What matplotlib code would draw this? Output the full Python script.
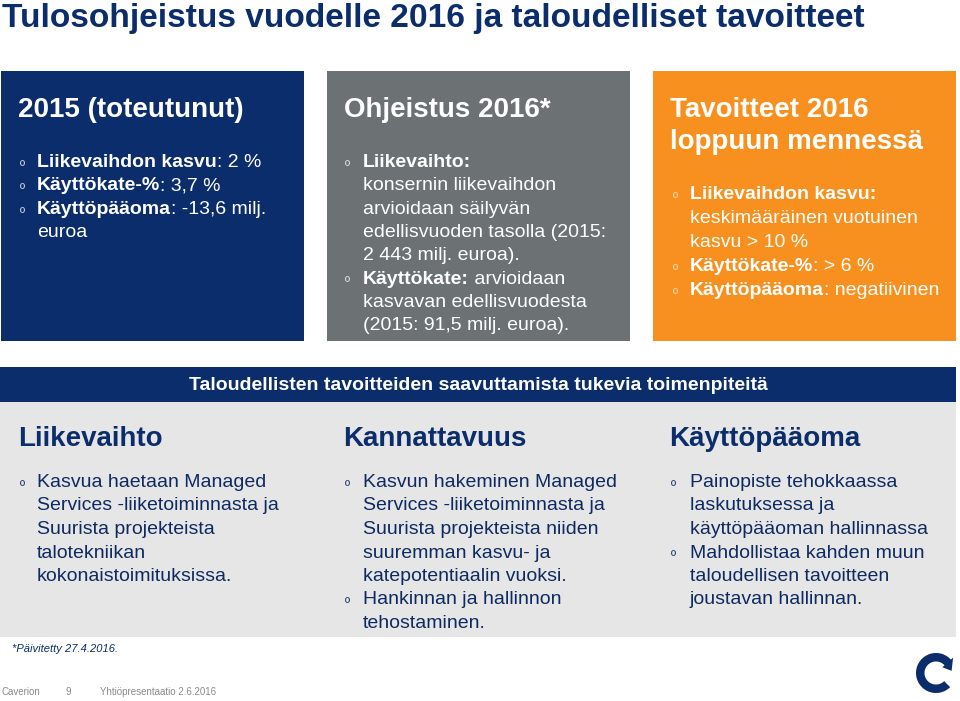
import matplotlib
matplotlib.use("Agg")
import matplotlib.pyplot as plt
from matplotlib.patches import Rectangle, Wedge, Polygon
import numpy as np

plt.rcParams['font.family'] = ['Liberation Sans', 'DejaVu Sans']

NAVY = '#0b2d6b'
TEXTNAVY = '#0e2a60'
GRAYBOX = '#6c7174'
ORANGE = '#f7901e'
LIGHT = '#e6e6e6'

# ---------------- content ----------------
slide_title = "Tulosohjeistus vuodelle 2016 ja taloudelliset tavoitteet"

top_titles = [["2015 (toteutunut)"],
              ["Ohjeistus 2016*"],
              ["Tavoitteet 2016", "loppuun mennessä"]]

box1_bullets = [
    [[("Liikevaihdon kasvu", True), (": 2 %", False)]],
    [[("Käyttökate-%", True), (": 3,7 %", False)]],
    [[("Käyttöpääoma", True), (": -13,6 milj.", False)], [("euroa", False)]],
]
box2_bullets = [
    [[("Liikevaihto:", True)],
     [("konsernin liikevaihdon", False)],
     [("arvioidaan säilyvän", False)],
     [("edellisvuoden tasolla (2015:", False)],
     [("2 443 milj. euroa).", False)]],
    [[("Käyttökate:", True), (" arvioidaan", False)],
     [("kasvavan edellisvuodesta", False)],
     [("(2015: 91,5 milj. euroa).", False)]],
]
box3_bullets = [
    [[("Liikevaihdon kasvu:", True)],
     [("keskimääräinen vuotuinen", False)],
     [("kasvu > 10 %", False)]],
    [[("Käyttökate-%", True), (": > 6 %", False)]],
    [[("Käyttöpääoma", True), (": negatiivinen", False)]],
]

banner_text = "Taloudellisten tavoitteiden saavuttamista tukevia toimenpiteitä"
column_headers = ["Liikevaihto", "Kannattavuus", "Käyttöpääoma"]
column_bullets = [
    [["Kasvua haetaan Managed", "Services -liiketoiminnasta ja",
      "Suurista projekteista", "talotekniikan", "kokonaistoimituksissa."]],
    [["Kasvun hakeminen Managed", "Services -liiketoiminnasta ja",
      "Suurista projekteista niiden", "suuremman kasvu- ja",
      "katepotentiaalin vuoksi."],
     ["Hankinnan ja hallinnon", "tehostaminen."]],
    [["Painopiste tehokkaassa", "laskutuksessa ja", "käyttöpääoman hallinnassa"],
     ["Mahdollistaa kahden muun", "taloudellisen tavoitteen", "joustavan hallinnan."]],
]
footnote = "*Päivitetty 27.4.2016."
footer_items = ["Caverion", "9", "Yhtiöpresentaatio 2.6.2016"]

# ---------------- drawing ----------------
fig = plt.figure(figsize=(9.6, 7.01), dpi=100)
ax = fig.add_axes([0, 0, 1, 1])
ax.set_xlim(0, 960)
ax.set_ylim(701, 0)
ax.axis('off')


def rich(x, y, segs, size, color):
    prev = None
    for txt, bold in segs:
        w = 'bold' if bold else 'normal'
        if prev is None:
            prev = ax.text(x, y, txt, fontsize=size, fontweight=w, color=color,
                           va='baseline', ha='left')
        else:
            prev = ax.annotate(txt, xy=(1, 0), xycoords=prev, fontsize=size,
                               fontweight=w, color=color, va='bottom', ha='left')


def bullets(x_b, x_t, y0, step, blist, color, bcolor, size=14):
    i = 0
    for b in blist:
        ax.text(x_b, y0 + i * step + 4, "º", fontsize=10, color=bcolor,
                va='baseline', ha='left')
        for line in b:
            segs = line if isinstance(line, list) else [(line, False)]
            rich(x_t, y0 + i * step, segs, size, color)
            i += 1


# slide title
ax.text(2, 27, slide_title, fontsize=24.1, fontweight='bold', color=NAVY,
        va='baseline', ha='left')

# top boxes
boxes = [(1, NAVY), (327, GRAYBOX), (653, ORANGE)]
for (x0, col) in boxes:
    ax.add_patch(Rectangle((x0, 71), 303, 270, facecolor=col, edgecolor='none'))

for (x0, _), tl in zip(boxes, top_titles):
    for j, t in enumerate(tl):
        ax.text(x0 + 17, 117 + 32 * j, t, fontsize=20, fontweight='bold',
                color='white', va='baseline', ha='left')

bullets(20, 37, 167, 23.4, box1_bullets, 'white', '#dfe3ee')
bullets(345, 363, 167, 23.3, box2_bullets, 'white', '#e8e8e8')
bullets(673, 690, 199, 24.0, box3_bullets, 'white', '#fde3c4')

# banner and gray area
ax.add_patch(Rectangle((0, 367), 956, 35, facecolor=NAVY, edgecolor='none'))
ax.add_patch(Rectangle((0, 402), 956, 235, facecolor=LIGHT, edgecolor='none'))
ax.text(478, 390, banner_text, fontsize=14, fontweight='bold', color='white',
        va='baseline', ha='center')

col_x = [(18, 20, 37), (343, 345, 363), (669, 671, 690)]
for (xh, xb, xt), head, bl in zip(col_x, column_headers, column_bullets):
    ax.text(xh, 446, head, fontsize=20, fontweight='bold', color=NAVY,
            va='baseline', ha='left')
    bullets(xb, xt, 487, 23.5, bl, TEXTNAVY, TEXTNAVY)

# footnote and footer
ax.text(12, 652, footnote, fontsize=8, style='italic', color=NAVY,
        va='baseline', ha='left')
for x, t in zip([2, 66, 100], footer_items):
    ax.text(x, 695, t, fontsize=7, color='#8a8a8a', va='baseline', ha='left')

# logo
cx, cy, R, W = 936, 673, 20, 8.5
ax.add_patch(Wedge((cx, cy), R, 45, 322, width=W, facecolor=NAVY, edgecolor='none'))
a0 = np.deg2rad(318)
a1 = np.deg2rad(352)
rm = R - W / 2
pts = [(cx + (R - W - 3) * np.cos(a0), cy + (R - W - 3) * np.sin(a0)),
       (cx + (R + 3) * np.cos(a0), cy + (R + 3) * np.sin(a0)),
       (cx + rm * np.cos(a1), cy + rm * np.sin(a1))]
ax.add_patch(Polygon(pts, closed=True, facecolor=NAVY, edgecolor='none'))

fig.savefig("out.png", dpi=100)
